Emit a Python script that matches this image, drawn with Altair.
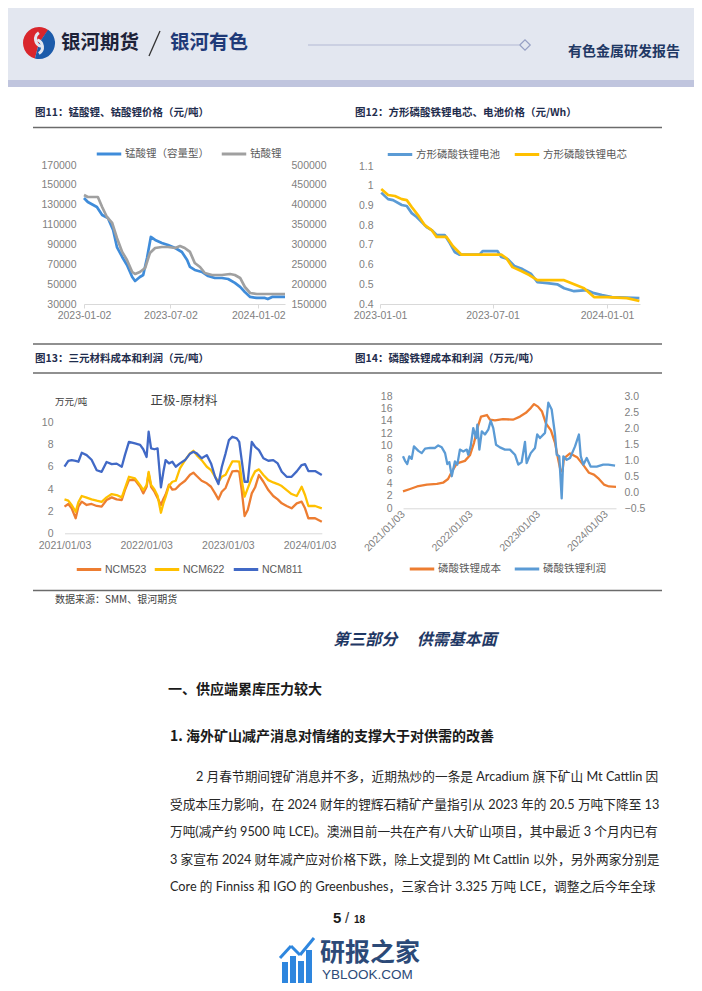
import altair as alt
import pandas as pd

W, H = 686, 975
NUM_FONT = "Liberation Sans"
CJK_FONT = "Noto Sans CJK SC"
MIX_FONT = "Liberation Sans, Noto Sans CJK SC"
BODY_FONT = "Lato, Noto Sans CJK SC"
AXIS_GRAY = "#7f7f7f"

# ---------------- data ----------------
# Fig 11: lithium manganate (left axis) / lithium cobaltate (right axis), yuan/t
MN_DATES = ["2023-01-02", "2023-01-10", "2023-01-29", "2023-02-09", "2023-02-21", "2023-03-04", "2023-03-12",
            "2023-03-23", "2023-04-02", "2023-04-13", "2023-04-19", "2023-04-29", "2023-05-06", "2023-05-14",
            "2023-05-22", "2023-05-31", "2023-06-14", "2023-06-27", "2023-07-12", "2023-07-26", "2023-08-06",
            "2023-08-12", "2023-08-22", "2023-09-06", "2023-09-19", "2023-10-03", "2023-10-18", "2023-10-31",
            "2023-11-14", "2023-11-25", "2023-12-05", "2023-12-16", "2023-12-30", "2024-01-16", "2024-01-22",
            "2024-01-31", "2024-02-27"]
MN_VALUES = [136800, 132700, 127700, 119600, 116600, 104500, 87400, 77400, 69300, 57200, 53200, 57200, 59200,
             76300, 97500, 94500, 91500, 89400, 86400, 82400, 74300, 67300, 64300, 62300, 58200, 56200, 56200,
             55200, 51200, 47200, 42100, 37100, 36100, 36100, 35000, 37100, 37100]
CO_DATES = ["2023-01-02", "2023-01-10", "2023-01-31", "2023-02-09", "2023-02-19", "2023-03-02", "2023-03-12",
            "2023-03-23", "2023-04-02", "2023-04-13", "2023-04-19", "2023-04-29", "2023-05-10", "2023-05-20",
            "2023-05-31", "2023-06-14", "2023-06-27", "2023-07-12", "2023-07-22", "2023-08-01", "2023-08-12",
            "2023-08-22", "2023-09-02", "2023-09-12", "2023-09-27", "2023-10-18", "2023-11-04", "2023-11-14",
            "2023-11-25", "2023-12-05", "2023-12-16", "2023-12-30", "2024-02-27"]
CO_VALUES = [424500, 419400, 419400, 394200, 369100, 354000, 316200, 281100, 260800, 230600, 225600, 230600,
             240600, 278400, 291000, 293500, 293500, 291000, 296000, 291000, 281100, 253200, 243100, 228100,
             223000, 223000, 225600, 223000, 215500, 192800, 177700, 175200, 175200]

# Fig 12: LFP prismatic battery / cell price, yuan/Wh
BAT_DATES = ["2023-01-03", "2023-01-14", "2023-01-22", "2023-02-05", "2023-02-13", "2023-02-21", "2023-03-01",
             "2023-03-09", "2023-03-17", "2023-03-25", "2023-04-02", "2023-04-15", "2023-04-23", "2023-05-01",
             "2023-05-09", "2023-06-10", "2023-06-15", "2023-07-09", "2023-07-15", "2023-07-25", "2023-08-05",
             "2023-08-18", "2023-09-01", "2023-09-11", "2023-09-27", "2023-10-13", "2023-10-24", "2023-11-09",
             "2023-11-30", "2023-12-11", "2023-12-24", "2024-01-09", "2024-02-22"]
BAT_VALUES = [0.965, 0.932, 0.927, 0.902, 0.897, 0.861, 0.841, 0.816, 0.79, 0.775, 0.75, 0.75, 0.71, 0.664,
              0.65, 0.65, 0.668, 0.668, 0.638, 0.628, 0.593, 0.577, 0.552, 0.511, 0.506, 0.50, 0.48, 0.465,
              0.47, 0.455, 0.445, 0.435, 0.43]
CELL_DATES = ["2023-01-03", "2023-01-14", "2023-01-25", "2023-02-05", "2023-02-13", "2023-02-21", "2023-03-03",
              "2023-03-14", "2023-03-25", "2023-04-02", "2023-04-18", "2023-04-28", "2023-05-12", "2023-07-15",
              "2023-07-23", "2023-08-02", "2023-08-16", "2023-08-29", "2023-09-11", "2023-10-24", "2023-11-09",
              "2023-11-25", "2023-12-11", "2024-01-01", "2024-02-02", "2024-02-22"]
CELL_VALUES = [0.983, 0.953, 0.948, 0.932, 0.927, 0.892, 0.851, 0.80, 0.775, 0.74, 0.74, 0.694, 0.65, 0.65,
               0.633, 0.587, 0.567, 0.547, 0.521, 0.521, 0.50, 0.48, 0.435, 0.435, 0.43, 0.415]

# Fig 13: NCM cathode minus raw material, 10k yuan/t
NCM_DATES = ["2021-01-03", "2021-01-20", "2021-02-04", "2021-02-22", "2021-03-06", "2021-03-21", "2021-04-12",
             "2021-05-04", "2021-05-27", "2021-06-18", "2021-07-10", "2021-08-02", "2021-08-24", "2021-09-16",
             "2021-09-30", "2021-10-18", "2021-11-14", "2021-12-07", "2021-12-21", "2022-01-05", "2022-01-14",
             "2022-01-25", "2022-02-09", "2022-02-23", "2022-03-10", "2022-03-21", "2022-03-31", "2022-04-15",
             "2022-04-30", "2022-05-15", "2022-06-03", "2022-06-26", "2022-07-18", "2022-08-02", "2022-08-17",
             "2022-09-08", "2022-10-01", "2022-10-20", "2022-11-07", "2022-11-22", "2022-12-07", "2022-12-24",
             "2023-01-08", "2023-01-23", "2023-02-12", "2023-02-23", "2023-03-06", "2023-03-19", "2023-04-02",
             "2023-04-20", "2023-05-05", "2023-05-22", "2023-06-11", "2023-07-03", "2023-07-25", "2023-08-14",
             "2023-09-01", "2023-09-23", "2023-10-15", "2023-11-07", "2023-11-29", "2023-12-14", "2023-12-29",
             "2024-01-28", "2024-02-27"]
NCM523 = [2.41, 2.65, 2.26, 1.36, 2.41, 2.86, 2.56, 2.65, 2.47, 2.41, 3.01, 3.25, 3.07, 3.01, 3.91, 4.81, 4.81,
          4.21, 3.61, 4.21, 5.42, 4.21, 3.76, 3.2, 2.56, 3.1, 3.5, 4.4, 3.95, 4.0, 4.4, 4.75, 5.3, 5.48, 5.18,
          4.75, 4.52, 4.21, 3.61, 3.07, 3.76, 4.1, 4.9, 5.6, 5.65, 5.56, 3.91, 1.56, 2.1, 3.61, 4.16, 5.27, 4.66,
          3.91, 3.37, 3.07, 2.71, 2.47, 2.26, 2.71, 2.86, 2.26, 1.36, 1.36, 1.05]
NCM622 = [3.07, 2.95, 2.56, 1.95, 2.8, 3.37, 3.22, 3.07, 2.95, 2.85, 3.25, 3.55, 3.46, 3.25, 4.07, 5.11, 4.97,
          4.36, 3.91, 4.36, 5.56, 4.36, 3.97, 3.4, 1.86, 2.7, 3.3, 4.3, 4.66, 4.75, 5.87, 6.62, 7.23, 7.46, 7.07,
          6.62, 6.02, 5.72, 5.11, 4.66, 5.11, 5.3, 5.9, 6.5, 6.5, 6.47, 4.81, 3.31, 4.07, 5.0, 5.6, 5.78, 5.27,
          4.81, 4.6, 4.45, 4.27, 3.9, 3.55, 3.37, 4.21, 3.46, 2.47, 2.47, 2.26]
NCM811 = [6.02, 6.55, 6.62, 6.55, 6.47, 7.28, 7.07, 6.65, 5.7, 5.56, 6.45, 6.26, 6.3, 6.02, 7.07, 8.27, 8.13,
          8.0, 7.6, 6.9, 9.18, 7.68, 7.6, 7.68, 4.16, 5.56, 6.62, 6.32, 6.47, 6.02, 6.32, 6.62, 7.2, 7.37, 7.23,
          6.78, 7.07, 6.32, 5.11, 4.45, 6.0, 7.23, 8.43, 8.73, 8.58, 8.27, 6.62, 4.66, 4.66, 8.27, 7.82, 7.52,
          6.78, 6.56, 6.62, 6.32, 5.56, 5.11, 5.11, 5.6, 6.17, 6.26, 5.63, 5.63, 5.27]

# Fig 14: LFP cost (left, 10k yuan/t) and profit (right)
COST_DATES = ["2021-01-03", "2021-02-10", "2021-03-20", "2021-05-12", "2021-07-05", "2021-08-07", "2021-09-03",
              "2021-09-24", "2021-10-21", "2021-12-03", "2021-12-30", "2022-01-21", "2022-02-12", "2022-02-28",
              "2022-04-01", "2022-04-17", "2022-05-14", "2022-06-26", "2022-08-19", "2022-09-26", "2022-10-28",
              "2022-11-24", "2022-12-11", "2023-01-01", "2023-01-23", "2023-02-13", "2023-03-12", "2023-04-03",
              "2023-04-19", "2023-05-03", "2023-05-13", "2023-05-21", "2023-06-23", "2023-07-31", "2023-09-06",
              "2023-10-03", "2023-10-30", "2023-11-26", "2023-12-23", "2024-01-19", "2024-02-26"]
COST_VALUES = [2.7, 3.1, 3.5, 3.8, 3.9, 4.1, 4.7, 5.9, 7.2, 7.6, 8.5, 10.5, 13.2, 14.7, 14.95, 14.2, 14.1, 14.3,
               14.2, 14.7, 15.3, 16.1, 16.7, 16.3, 15.5, 13.6, 12.5, 10.5, 8.0, 6.0, 5.9, 8.0, 8.8, 8.2, 6.8,
               5.7, 5.4, 4.7, 3.8, 3.5, 3.45]
PROFIT_DATES = ["2021-01-03", "2021-01-14", "2021-01-26", "2021-02-06", "2021-02-19", "2021-03-03", "2021-03-27",
                "2021-04-14", "2021-05-02", "2021-05-29", "2021-06-25", "2021-07-12", "2021-07-31", "2021-08-18",
                "2021-08-30", "2021-09-10", "2021-09-23", "2021-10-10", "2021-10-23", "2021-11-06", "2021-11-24",
                "2021-12-13", "2021-12-21", "2022-01-03", "2022-01-17", "2022-02-01", "2022-02-08", "2022-02-19",
                "2022-03-04", "2022-03-21", "2022-04-08", "2022-04-21", "2022-05-05", "2022-05-20", "2022-06-10",
                "2022-07-07", "2022-08-03", "2022-08-30", "2022-09-17", "2022-10-05", "2022-10-23", "2022-11-01",
                "2022-11-23", "2022-12-16", "2022-12-28", "2023-01-12", "2023-02-08", "2023-02-26", "2023-03-16",
                "2023-04-03", "2023-04-12", "2023-04-26", "2023-05-09", "2023-05-18", "2023-06-05", "2023-06-23",
                "2023-07-20", "2023-08-10", "2023-08-20", "2023-09-03", "2023-09-21", "2023-10-12", "2023-11-14",
                "2023-12-19", "2024-01-15", "2024-02-21"]
PROFIT_VALUES = [1.12, 0.98, 0.88, 1.12, 1.04, 1.43, 1.29, 1.22, 1.36, 1.38, 1.38, 1.46, 1.40, 1.22, 0.88, 0.94,
                 0.50, 0.96, 0.86, 1.33, 1.27, 1.33, 1.17, 1.43, 2.0, 1.69, 2.11, 1.33, 1.90, 1.80, 1.95, 2.23,
                 2.0, 1.48, 1.40, 1.33, 1.33, 1.17, 0.86, 0.94, 1.57, 0.91, 1.22, 1.38, 1.80, 1.69, 1.85, 2.79,
                 2.58, 1.80, 1.17, 1.12, -0.19, 1.12, 1.01, 1.07, 1.43, 1.80, 1.12, 0.86, 1.07, 0.80, 0.80, 0.86,
                 0.86, 0.83]

# axis tick values
CH11_X_TICKS = ["2023-01-02", "2023-07-02", "2024-01-02"]
CH12_X_TICKS = ["2023-01-01", "2023-07-01", "2024-01-01"]
CH13_X_TICKS = ["2021-01-03", "2022-01-03", "2023-01-03", "2024-01-03"]
CH11_Y_LEFT = [30000, 50000, 70000, 90000, 110000, 130000, 150000, 170000]
CH11_Y_RIGHT = [150000, 200000, 250000, 300000, 350000, 400000, 450000, 500000]
CH12_Y = [0.4, 0.5, 0.6, 0.7, 0.8, 0.9, 1.0, 1.1]
CH13_Y = [0, 2, 4, 6, 8, 10]
CH14_Y_LEFT = [0, 2, 4, 6, 8, 10, 12, 14, 16, 18]
CH14_Y_RIGHT = [-0.5, 0.0, 0.5, 1.0, 1.5, 2.0, 2.5, 3.0]

# texts
HEADER_LEFT = "银河期货"
HEADER_MID = "银河有色"
HEADER_RIGHT = "有色金属研发报告"
TITLE11 = "图11：锰酸锂、钴酸锂价格（元/吨）"
TITLE12 = "图12：方形磷酸铁锂电芯、电池价格（元/Wh）"
TITLE13 = "图13：三元材料成本和利润（元/吨）"
TITLE14 = "图14：磷酸铁锂成本和利润（万元/吨）"
SOURCE = "数据来源：SMM、银河期货"
SECTION = "第三部分 　供需基本面"
HEAD1 = "一、供应端累库压力较大"
HEAD2 = "1.  海外矿山减产消息对情绪的支撑大于对供需的改善"
PARA_LINES = [
    "2 月春节期间锂矿消息并不多，近期热炒的一条是 Arcadium 旗下矿山 Mt Cattlin 因",
    "受成本压力影响，在 2024 财年的锂辉石精矿产量指引从 2023 年的 20.5 万吨下降至 13",
    "万吨(减产约 9500 吨 LCE)。澳洲目前一共在产有八大矿山项目，其中最近 3 个月内已有",
    "3 家宣布 2024 财年减产应对价格下跌，除上文提到的 Mt Cattlin 以外，另外两家分别是",
    "Core 的 Finniss 和 IGO 的 Greenbushes，三家合计 3.325 万吨 LCE，调整之后今年全球",
]


# ---------------- helpers ----------------
def dt(s):
    y, m, d = (int(p) for p in s.split("-"))
    return alt.DateTime(year=y, month=m, date=d, utc=True)


def one():
    return pd.DataFrame({"k": [0]})


def text(t, x, y, size, color="#262626", weight="normal", align="left", font=CJK_FONT, style="normal"):
    return alt.Chart(pd.DataFrame({"t": [t]})).mark_text(
        align=align, baseline="middle", fontSize=size, fontWeight=weight, font=font,
        color=color, fontStyle=style
    ).encode(x=alt.value(x), y=alt.value(y), text="t:N")


def seg(x1, y1, x2, y2, color="#595959", width=1.2):
    return alt.Chart(one()).mark_rule(color=color, strokeWidth=width).encode(
        x=alt.value(x1), y=alt.value(y1), x2=alt.value(x2), y2=alt.value(y2))


def rect(x1, y1, x2, y2, color):
    return alt.Chart(one()).mark_rect(color=color).encode(
        x=alt.value(x1), x2=alt.value(x2), y=alt.value(y1), y2=alt.value(y2))


def arc(cx, cy, r1, r2, t1, t2, color):
    return alt.Chart(one()).mark_arc(radius=r1, radius2=r2, theta=t1, theta2=t2, color=color).encode(
        x=alt.value(cx), y=alt.value(cy))


def xaxis(offset, ticks_at, fmt, angle=0, ticks=True, pad=2):
    kw = dict(orient="bottom", offset=offset, values=[dt(v) for v in ticks_at], format=fmt, grid=False,
              domainColor="#d9d9d9", domainWidth=1, labelFont=NUM_FONT, labelFontSize=10.5,
              labelColor=AXIS_GRAY, labelFlush=False, labelOverlap=False, title=None, labelPadding=pad)
    if ticks:
        kw.update(ticks=True, tickColor="#d9d9d9", tickSize=4)
    else:
        kw.update(ticks=False)
    if angle:
        kw.update(labelAngle=angle, labelAlign="right", labelBaseline="middle", labelPadding=4)
    return alt.Axis(**kw)


def yaxis(orient, offset, values, fmt):
    return alt.Axis(orient=orient, offset=offset, values=values, format=fmt, domain=False, ticks=False,
                    grid=False, labelPadding=2, labelFont=NUM_FONT, labelFontSize=10.5,
                    labelColor=AXIS_GRAY, title=None)


def series(dates, values, name, color, xdom, xrng, ydom, yrng, lx, ly, xax=None, yax=None, sw=2.3,
           sym=600, leg_font=MIX_FONT):
    df = pd.DataFrame({"date": dates, "value": values, "series": [name] * len(dates)})
    return alt.Chart(df).mark_line(strokeWidth=sw, strokeJoin="round").encode(
        x=alt.X("date:T", scale=alt.Scale(type="utc", domain=[dt(xdom[0]), dt(xdom[1])], range=xrng),
                axis=xax),
        y=alt.Y("value:Q", scale=alt.Scale(domain=ydom, range=yrng, zero=False, nice=False), axis=yax),
        color=alt.Color("series:N", scale=alt.Scale(domain=[name], range=[color]),
                        legend=alt.Legend(orient="none", legendX=lx, legendY=ly, direction="horizontal",
                                          title=None, symbolType="stroke", symbolSize=sym,
                                          symbolStrokeWidth=3, labelFont=leg_font, labelFontSize=10.5,
                                          labelColor="#595959", labelOffset=2, padding=0)),
    )


layers = []

# ---------------- header ----------------
layers += [
    rect(0, 0, W, 72, "#E3E7F0"),
    rect(0, 72, W, 79, "#C0C5DE"),
    arc(31, 35, 16, 0, 3.4, 6.9, "#D9262C"),
    arc(31, 35, 16, 0, 0.6, 3.4, "#1C5BAA"),
    arc(27, 39, 9, 6, 0.3, 2.6, "#E3E7F0"),
    arc(35, 31, 9, 6, 3.4, 5.7, "#E3E7F0"),
    text(HEADER_LEFT, 53, 35, 19.5, color="#1D2238", weight="bold"),
    seg(141, 48, 152, 23, color="#333333", width=1.3),
    text(HEADER_MID, 162, 35, 19.5, color="#1F3A78", weight="bold"),
    seg(300, 37, 511, 37, color="#B3B9D4", width=1),
    alt.Chart(one()).mark_point(shape="diamond", size=110, fill="#E3E7F0", fillOpacity=1, opacity=1,
                                stroke="#97A0C4", strokeWidth=1.2).encode(x=alt.value(517), y=alt.value(37)),
    text(HEADER_RIGHT, 672, 44, 14, color="#1F3864", weight="bold", align="right"),
]

# ---------------- chart frames & titles ----------------
layers += [
    seg(25, 119.5, 654, 119.5, color="#6b6b6b", width=1.4),
    seg(25, 336, 654, 336, color="#6b6b6b", width=1.4),
    seg(25, 365, 654, 365, color="#6b6b6b", width=1.4),
    seg(25, 582.5, 654, 582.5, color="#6b6b6b", width=1.4),
    text(TITLE11, 27, 104.5, 10.5, color="#1F2D4D", weight="bold"),
    text(TITLE12, 347, 104.5, 10.5, color="#1F2D4D", weight="bold"),
    text(TITLE13, 27, 351, 10.5, color="#1F2D4D", weight="bold"),
    text(TITLE14, 347, 351, 10.5, color="#1F2D4D", weight="bold"),
    text("万元/吨", 47, 393.5, 9.5, color="#404040"),
    text("正极-原材料", 176, 392.5, 12.5, color="#404040", align="center"),
    text(SOURCE, 47, 592, 10, color="#404040"),
]

# ---------------- fig 11 ----------------
X11 = ("2023-01-02", "2024-02-27")
R11 = [76, 277]
layers += [
    series(MN_DATES, MN_VALUES, "锰酸锂（容量型）", "#3F8CDA", X11, R11, [30000, 170000], [296, 157],
           87, 132, xax=xaxis(-679, CH11_X_TICKS, "%Y-%m-%d"), yax=yaxis("left", -70, CH11_Y_LEFT, "d"),
           sw=2.7),
    series(CO_DATES, CO_VALUES, "钴酸锂", "#A0A0A0", X11, R11, [150000, 500000], [296, 157],
           212, 132, yax=yaxis("right", -405, CH11_Y_RIGHT, "d"), sw=2.7),
]

# ---------------- fig 12 ----------------
X12 = ("2023-01-01", "2024-02-23")
R12 = [372, 632]
layers += [
    series(BAT_DATES, BAT_VALUES, "方形磷酸铁锂电池", "#5B9BD5", X12, R12, [0.4, 1.1], [296, 158],
           378, 132.5, xax=xaxis(-679, CH12_X_TICKS, "%Y-%m-%d"), yax=yaxis("left", -367, CH12_Y, ".1~f"),
           sw=2.7),
    series(CELL_DATES, CELL_VALUES, "方形磷酸铁锂电芯", "#FFC000", X12, R12, [0.4, 1.1], [296, 158],
           505, 132.5, sw=2.7),
]

# ---------------- fig 13 ----------------
X13 = ("2021-01-03", "2024-02-27")
R13 = [56.5, 313.8]
layers += [
    series(NCM_DATES, NCM523, "NCM523", "#ED7D31", X13, R13, [0, 10], [525.3, 414.7], 67, 547.5,
           xax=xaxis(-449.7, CH13_X_TICKS, "%Y/%m/%d", ticks=False, pad=7), yax=yaxis("left", -47, CH13_Y, "d"),
           sw=2.3, leg_font=NUM_FONT),
    series(NCM_DATES, NCM622, "NCM622", "#FFC000", X13, R13, [0, 10], [525.3, 414.7], 145, 547.5,
           sw=2.3, leg_font=NUM_FONT),
    series(NCM_DATES, NCM811, "NCM811", "#4169C6", X13, R13, [0, 10], [525.3, 414.7], 224, 547.5,
           sw=2.3, leg_font=NUM_FONT),
]

# ---------------- fig 14 ----------------
X14 = ("2021-01-03", "2024-02-26")
R14 = [395, 608]
layers += [
    series(COST_DATES, COST_VALUES, "磷酸铁锂成本", "#ED7D31", X14, R14, [0, 18], [500.3, 388], 400, 547,
           xax=xaxis(-474.7, CH13_X_TICKS, "%Y/%m/%d", angle=315, ticks=False),
           yax=yaxis("left", -386, CH14_Y_LEFT, "d"), sw=2.3),
    series(PROFIT_DATES, PROFIT_VALUES, "磷酸铁锂利润", "#5B9BD5", X14, R14, [-0.5, 3.0], [500.3, 388],
           505, 547, yax=yaxis("right", -72, CH14_Y_RIGHT, ".1f"), sw=2.3),
]

# ---------------- body text ----------------
layers += [
    text(SECTION, 407, 632, 16, color="#1F3864", weight="bold", align="center", style="italic"),
    text(HEAD1, 160, 682, 14, color="#1a1a1a", weight="bold"),
    text(HEAD2, 162, 728.5, 14, color="#1a1a1a", weight="bold"),
]
para_y = [769, 796.5, 824, 851.5, 879]
para_x = [188, 162, 162, 162, 162]
for ln, yy, xx in zip(PARA_LINES, para_y, para_x):
    layers.append(text(ln, xx, yy, 12.7, color="#262626", font=BODY_FONT))

layers += [
    text("5", 325, 910, 15, color="#1a1a1a", weight="bold", font=NUM_FONT),
    text("/", 337, 910, 15, color="#333333", font=NUM_FONT),
    text("18", 346, 912, 10, color="#1a1a1a", weight="bold", font=NUM_FONT),
]

# ---------------- watermark ----------------
layers += [
    rect(274, 954, 280, 975, "#2E86DE"),
    rect(282, 948, 288, 975, "#2E86DE"),
    rect(290, 953, 296, 975, "#2E86DE"),
    rect(298, 942, 304, 975, "#2E86DE"),
    seg(272, 950, 283, 938, color="#2E86DE", width=3),
    seg(283, 938, 292, 947, color="#2E86DE", width=3),
    seg(292, 947, 306, 930, color="#2E86DE", width=3),
    text("研报之家", 312, 945, 25, color="#2C4A78", weight="bold"),
    text("YBLOOK.COM", 314, 967, 13.5, color="#2C4A78", font=NUM_FONT),
]

chart = alt.layer(*layers).resolve_scale(
    x="independent", y="independent", color="independent"
).properties(
    width=W, height=H, padding=0, autosize=alt.AutoSizeParams(type="none")
).configure_view(strokeWidth=0)

chart.save("out.html", embed_options={"renderer": "svg", "actions": False})
